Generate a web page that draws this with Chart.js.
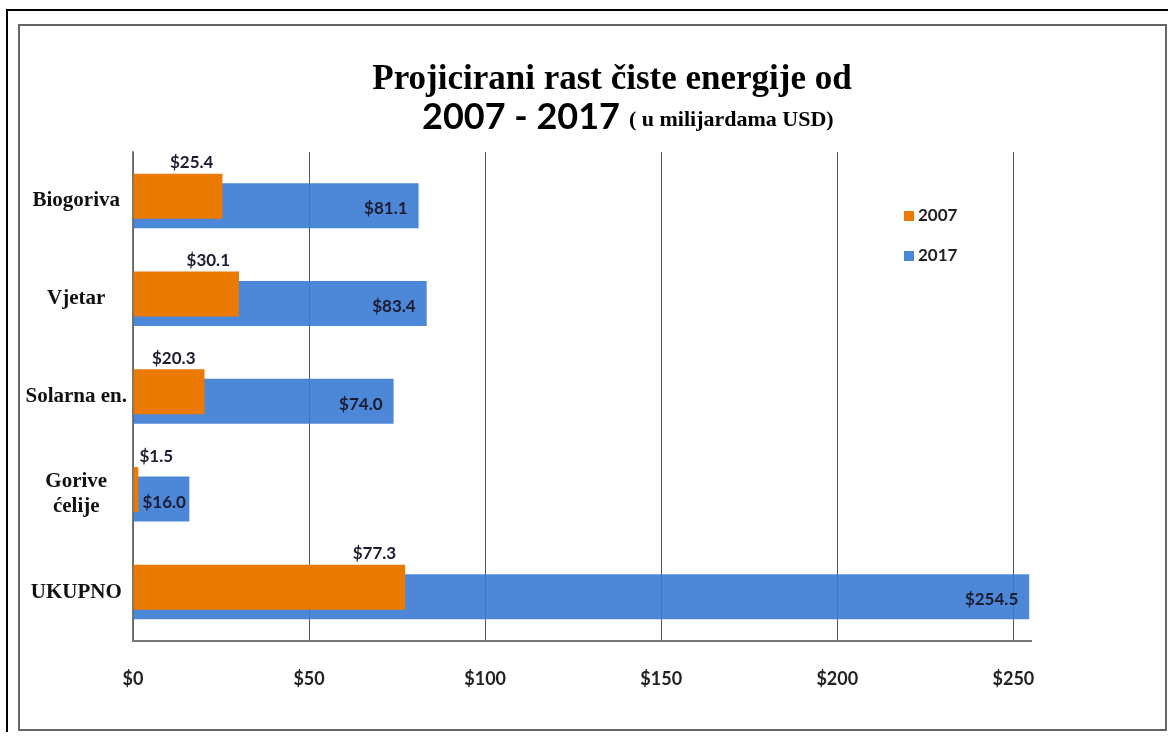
<!DOCTYPE html>
<html>
<head>
<meta charset="utf-8">
<script src="https://cdn.jsdelivr.net/npm/chart.js@4"></script>
<style>
  body { margin: 0; background: #fff; }
  #outer { position: absolute; left: 6px; top: 9px; width: 1160px; height: 721px;
           border-top: 2px solid #000; border-left: 2px solid #000; }
  #inner { position: absolute; left: 18px; top: 24px; width: 1145px; height: 703px;
           border: 2px solid #666; }
  #chart { position: absolute; left: 0; top: 0; }
</style>
</head>
<body>
<div id="outer"></div>
<div id="inner"></div>
<canvas id="chart" width="1172" height="738"></canvas>
<script>
const ctx = document.getElementById('chart');

const kategorije = ['Biogoriva', 'Vjetar', 'Solarna en.', ['Gorive', 'ćelije'], 'UKUPNO'];
const godine = ['2007', '2017'];
const vrijednosti2007 = [25.4, 30.1, 20.3, 1.5, 77.3];
const vrijednosti2017 = [81.1, 83.4, 74.0, 16.0, 254.5];
const naslov1 = 'Projicirani rast čiste energije od';
const naslov2a = '2007 - 2017';
const naslov2b = '( u milijardama USD)';

const boje = ['#EA7A02', 'rgba(56,122,212,0.9)'];

// labels with $ values on the bars
const oznake = {
  id: 'oznake',
  afterDatasetsDraw(chart) {
    const c = chart.ctx;
    c.save();
    c.font = 'bold 17px Lato';
    c.fillStyle = '#1c1c30';
    c.textAlign = 'right';
    c.textBaseline = 'middle';
    chart.data.datasets.forEach((ds, i) => {
      chart.getDatasetMeta(i).data.forEach((bar, j) => {
        const txt = '$' + ds.data[j].toFixed(1);
        const w = c.measureText(txt).width;
        if (i === 0) {
          const x = Math.max(bar.x - 9, bar.base + 6 + w);
          c.fillText(txt, x, bar.y - bar.height / 2 - 11);
        } else {
          const x = Math.max(bar.x - 11, bar.base + 9 + w);
          c.fillText(txt, x, bar.y + 3);
        }
      });
    });
    c.restore();
  }
};

// title and legend
const naslov = {
  id: 'naslov',
  afterDraw(chart) {
    const c = chart.ctx;
    c.save();
    c.fillStyle = '#000';
    c.textBaseline = 'alphabetic';
    c.textAlign = 'center';
    c.font = 'bold 35px "Liberation Serif"';
    c.fillText(naslov1, 612, 89);

    c.textAlign = 'left';
    c.font = 'bold 36px Lato';
    const w1 = c.measureText(naslov2a).width;
    c.font = 'bold 22px "Liberation Serif"';
    const w2 = c.measureText(naslov2b).width;
    let x = 422;
    c.font = 'bold 36px Lato';
    c.fillText(naslov2a, x, 129);
    c.font = 'bold 22px "Liberation Serif"';
    c.fillText(naslov2b, x + w1 + 9, 126);

    // legend
    c.font = 'bold 17px Lato';
    c.textBaseline = 'middle';
    chart.data.datasets.forEach((ds, i) => {
      const y = 216 + i * 40;
      c.fillStyle = ds.backgroundColor;
      c.fillRect(904, y - 5, 10, 10);
      c.fillStyle = '#222';
      c.fillText(ds.label, 918, y);
    });
    c.restore();
  }
};

new Chart(ctx, {
  type: 'bar',
  data: {
    labels: kategorije,
    datasets: [
      { label: godine[0], data: vrijednosti2007, backgroundColor: boje[0] },
      { label: godine[1], data: vrijednosti2017, backgroundColor: boje[1] }
    ]
  },
  options: {
    indexAxis: 'y',
    responsive: false,
    animation: false,
    categoryPercentage: 0.194,
    barPercentage: 4.74,
    layout: { padding: { left: 20, right: 141, top: 152, bottom: 37 } },
    plugins: {
      legend: { display: false },
      tooltip: { enabled: false }
    },
    scales: {
      x: {
        min: 0,
        max: 255,
        ticks: {
          stepSize: 50,
          includeBounds: false,
          padding: 27,
          color: '#222',
          font: { family: 'Lato', size: 18, weight: 'bold' },
          callback: v => '$' + v
        },
        grid: { color: '#555', lineWidth: 1, drawTicks: false },
        border: { color: '#777', width: 2 },
        afterFit(scale) { scale.height = 60; }
      },
      y: {
        ticks: {
          crossAlign: 'center',
          padding: 6,
          color: '#111',
          font: { family: 'Liberation Serif', size: 21, weight: 'bold' }
        },
        grid: { display: false, drawTicks: false },
        border: { color: '#777', width: 1.5 },
        afterFit(scale) { scale.width = 113; }
      }
    }
  },
  plugins: [oznake, naslov]
});
</script>
</body>
</html>
